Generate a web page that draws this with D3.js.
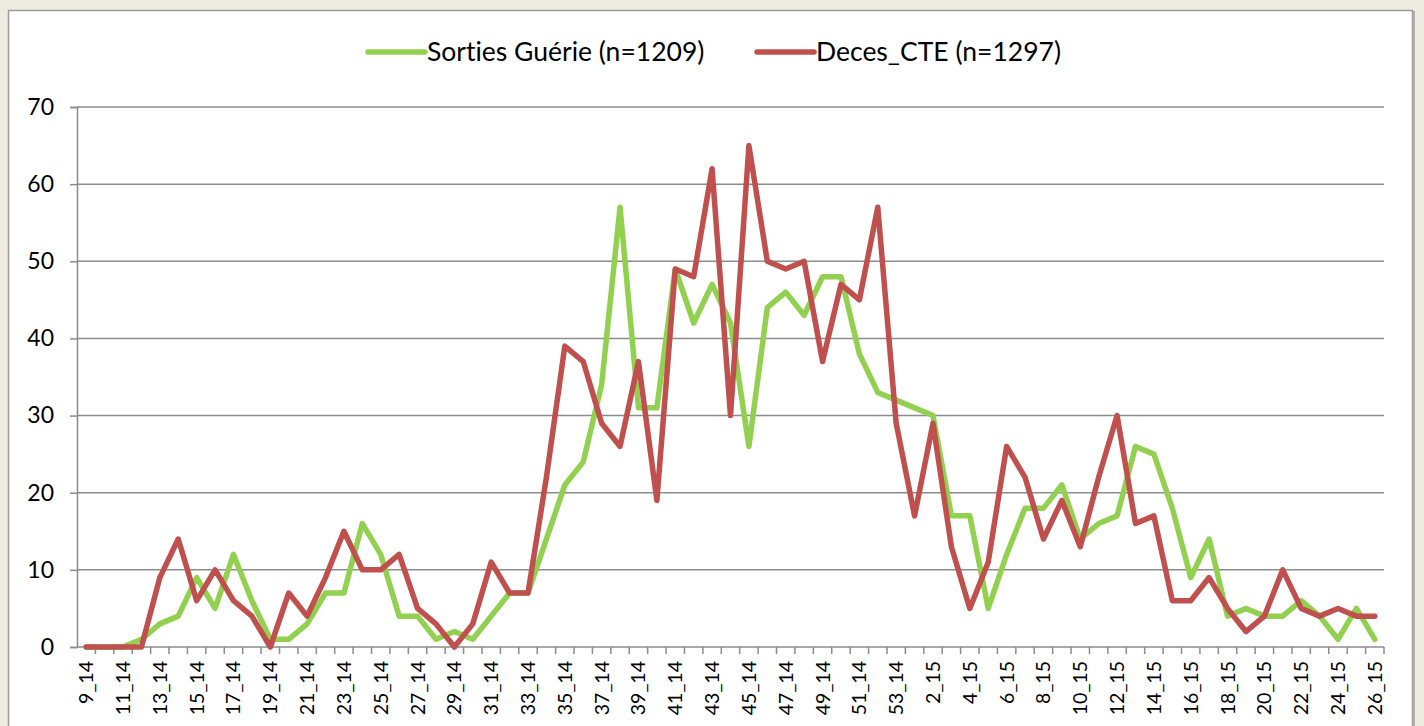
<!DOCTYPE html>
<html>
<head>
<meta charset="utf-8">
<script src="https://cdn.jsdelivr.net/npm/d3@7"></script>
<style>
  html, body { margin: 0; padding: 0; background: #eeece1; }
  svg { display: block; }
  text { font-variant-ligatures: none; }
</style>
</head>
<body>
<svg id="chart" width="1424" height="726"></svg>
<script>
// weeks: 9_14 .. 53_14, then 1_15 .. 26_15
const weeks = [
  "9_14","10_14","11_14","12_14","13_14","14_14","15_14","16_14","17_14","18_14",
  "19_14","20_14","21_14","22_14","23_14","24_14","25_14","26_14","27_14","28_14",
  "29_14","30_14","31_14","32_14","33_14","34_14","35_14","36_14","37_14","38_14",
  "39_14","40_14","41_14","42_14","43_14","44_14","45_14","46_14","47_14","48_14",
  "49_14","50_14","51_14","52_14","53_14","1_15","2_15","3_15","4_15","5_15",
  "6_15","7_15","8_15","9_15","10_15","11_15","12_15","13_15","14_15","15_15",
  "16_15","17_15","18_15","19_15","20_15","21_15","22_15","23_15","24_15","25_15",
  "26_15"
];

const sortiesGuerie = [
  0,0,0,1,3,4,9,5,12,6,
  1,1,3,7,7,16,12,4,4,1,
  2,1,4,7,7,14,21,24,34,57,
  31,31,49,42,47,42,26,44,46,43,
  48,48,38,33,32,31,30,17,17,5,
  12,18,18,21,14,16,17,26,25,18,
  9,14,4,5,4,4,6,4,1,5,
  1
];

const decesCTE = [
  0,0,0,0,9,14,6,10,6,4,
  0,7,4,9,15,10,10,12,5,3,
  0,3,11,7,7,22,39,37,29,26,
  37,19,49,48,62,30,65,50,49,50,
  37,47,45,57,29,17,29,13,5,11,
  26,22,14,19,13,22,30,16,17,6,
  6,9,5,2,4,10,5,4,5,4,
  4
];

const yTicks = [0, 10, 20, 30, 40, 50, 60, 70];

const series = [
  { name: "Sorties Guérie (n=1209)", values: sortiesGuerie, color: "#92d050" },
  { name: "Deces_CTE (n=1297)", values: decesCTE, color: "#c0504d" }
];

const svg = d3.select("#chart");
const font = "Lato, 'Open Sans', sans-serif";

// white chart panel on the beige page
svg.append("rect")
  .attr("x", 8.5).attr("y", 10.5)
  .attr("width", 1404).attr("height", 730)
  .attr("fill", "#fff")
  .attr("stroke", "#9c9c9c")
  .attr("stroke-width", 1.5);
svg.append("line")
  .attr("x1", 1414).attr("x2", 1414).attr("y1", 11).attr("y2", 726)
  .attr("stroke", "#b0b0b0").attr("stroke-width", 2);

const plotL = 77, plotR = 1384, plotT = 107, plotB = 647;

const x = d3.scaleBand().domain(weeks).range([plotL, plotR]);
const y = d3.scaleLinear().domain([0, 70]).range([plotB, plotT]);

// gridlines
svg.append("g")
  .selectAll("line")
  .data(yTicks.filter(d => d > 0))
  .join("line")
  .attr("x1", plotL).attr("x2", plotR)
  .attr("y1", d => y(d)).attr("y2", d => y(d))
  .attr("stroke", "#8c8c8c")
  .attr("stroke-width", 1.5);

// y axis
const yAxis = svg.append("g")
  .attr("transform", `translate(${plotL},0)`)
  .call(d3.axisLeft(y).tickValues(yTicks).tickSize(7).tickPadding(16));
yAxis.select(".domain").attr("stroke", "#8c8c8c").attr("stroke-width", 1.5);
yAxis.selectAll(".tick line").attr("stroke", "#8c8c8c").attr("stroke-width", 1.5);
yAxis.selectAll("text")
  .style("font-family", font)
  .style("font-size", "23px")
  .attr("fill", "#000");

// x axis: ticks at category boundaries, labels every other week
const xAxis = svg.append("g").attr("transform", `translate(0,${plotB})`);
xAxis.append("line")
  .attr("x1", plotL).attr("x2", plotR)
  .attr("stroke", "#8c8c8c").attr("stroke-width", 1.5);
xAxis.selectAll(".tk")
  .data(weeks)
  .join("line")
  .attr("class", "tk")
  .attr("x1", d => x(d) + x.bandwidth())
  .attr("x2", d => x(d) + x.bandwidth())
  .attr("y1", 0).attr("y2", 7)
  .attr("stroke", "#8c8c8c").attr("stroke-width", 1.5);
xAxis.selectAll(".lbl")
  .data(weeks.filter((d, i) => i % 2 === 0))
  .join("text")
  .attr("class", "lbl")
  .attr("transform", d => `translate(${x(d) + x.bandwidth() / 2 + 7},14) rotate(-90)`)
  .attr("text-anchor", "end")
  .style("font-family", font)
  .style("font-size", "19.5px")
  .text(d => d);

// lines
const line = d3.line()
  .x((d, i) => x(weeks[i]) + x.bandwidth() / 2)
  .y(d => y(d));

svg.append("g")
  .selectAll("path")
  .data(series)
  .join("path")
  .attr("d", d => line(d.values))
  .attr("fill", "none")
  .attr("stroke", d => d.color)
  .attr("stroke-width", 5.5)
  .attr("stroke-linejoin", "round")
  .attr("stroke-linecap", "round");

// legend
const legendX = [368, 757];
const legend = svg.append("g")
  .selectAll("g")
  .data(series)
  .join("g")
  .attr("transform", (d, i) => `translate(${legendX[i]},52)`);
legend.append("line")
  .attr("x1", 0).attr("x2", 57)
  .attr("stroke", d => d.color)
  .attr("stroke-width", 5.5)
  .attr("stroke-linecap", "round");
legend.append("text")
  .attr("x", 59).attr("y", 9)
  .style("font-family", font)
  .style("font-size", "26.5px")
  .text(d => d.name);
</script>
</body>
</html>
